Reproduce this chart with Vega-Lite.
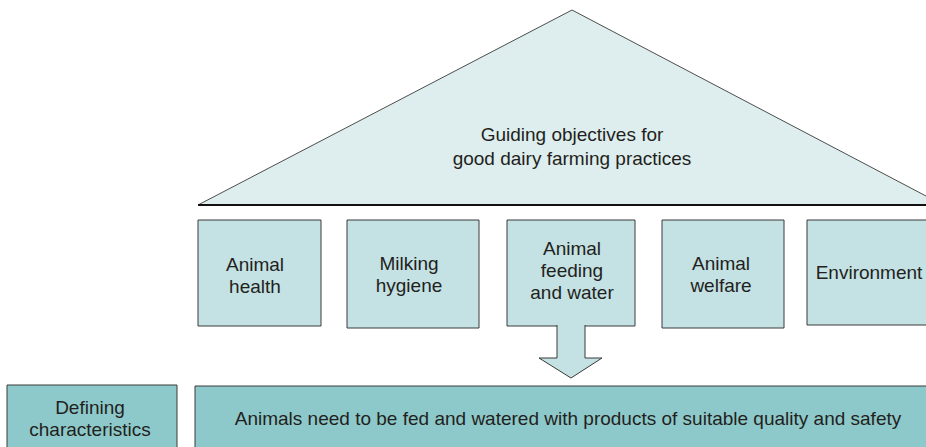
{
  "$schema": "https://vega.github.io/schema/vega-lite/v6.json",
  "width": 926,
  "height": 447,
  "autosize": {"type": "fit", "contains": "padding"},
  "padding": 0,
  "background": "white",
  "config": {"view": {"stroke": null}},
  "datasets": {
    "tri": [
      {"x": 198, "y": 205, "y2": 205},
      {"x": 572, "y": 10, "y2": 205},
      {"x": 926, "y": 196, "y2": 205}
    ],
    "boxes": [
      {"name": "Animal health", "x": 198, "x2": 321, "y": 220, "y2": 326, "kind": "pillar"},
      {"name": "Milking hygiene", "x": 347, "x2": 479, "y": 220, "y2": 328, "kind": "pillar"},
      {"name": "Animal feeding and water", "x": 507, "x2": 635, "y": 220, "y2": 326, "kind": "pillar"},
      {"name": "Animal welfare", "x": 662, "x2": 784, "y": 220, "y2": 328, "kind": "pillar"},
      {"name": "Environment", "x": 807, "x2": 935, "y": 220, "y2": 325, "kind": "pillar"},
      {"name": "Defining characteristics", "x": 7, "x2": 177, "y": 385, "y2": 455, "kind": "base"},
      {"name": "Statement", "x": 195, "x2": 935, "y": 386, "y2": 455, "kind": "base"}
    ],
    "arrow": [
      {"i": 0, "x": 557, "y": 325},
      {"i": 1, "x": 557, "y": 358},
      {"i": 2, "x": 539, "y": 358},
      {"i": 3, "x": 571, "y": 378},
      {"i": 4, "x": 602, "y": 358},
      {"i": 5, "x": 585, "y": 358},
      {"i": 6, "x": 585, "y": 325}
    ],
    "title": [
      {"t": "Guiding objectives for\ngood dairy farming practices", "x": 572, "y": 135}
    ],
    "labels": [
      {"t": "Animal\nhealth", "x": 255, "y": 265},
      {"t": "Milking\nhygiene", "x": 409, "y": 264},
      {"t": "Animal\nfeeding\nand water", "x": 572, "y": 249},
      {"t": "Animal\nwelfare", "x": 721, "y": 264},
      {"t": "Environment", "x": 869, "y": 273},
      {"t": "Defining\ncharacteristics", "x": 90, "y": 408},
      {"t": "Animals need to be fed and watered with products of suitable quality and safety", "x": 568, "y": 419}
    ]
  },
  "resolve": {"scale": {"x": "shared", "y": "shared"}},
  "layer": [
    {
      "data": {"name": "tri"},
      "mark": {"type": "area", "fill": "#deeeee", "clip": true},
      "encoding": {
        "x": {"field": "x", "type": "quantitative", "scale": {"domain": [0, 926], "nice": false, "zero": false}, "axis": null},
        "y": {"field": "y", "type": "quantitative", "scale": {"domain": [0, 447], "reverse": true, "nice": false, "zero": false}, "axis": null},
        "y2": {"field": "y2"}
      }
    },
    {
      "data": {"name": "tri"},
      "mark": {"type": "line", "stroke": "#3a3a3a", "strokeWidth": 0.9, "clip": true},
      "encoding": {
        "x": {"field": "x", "type": "quantitative", "scale": {"domain": [0, 926], "nice": false, "zero": false}, "axis": null},
        "y": {"field": "y", "type": "quantitative", "scale": {"domain": [0, 447], "reverse": true, "nice": false, "zero": false}, "axis": null}
      }
    },
    {
      "data": {"name": "tri"},
      "transform": [{"filter": "datum.x == 198"}],
      "mark": {"type": "rule", "stroke": "#111111", "strokeWidth": 2, "clip": true},
      "encoding": {
        "x": {"field": "x", "type": "quantitative", "scale": {"domain": [0, 926], "nice": false, "zero": false}, "axis": null},
        "x2": {"datum": 926},
        "y": {"field": "y2", "type": "quantitative", "scale": {"domain": [0, 447], "reverse": true, "nice": false, "zero": false}, "axis": null}
      }
    },
    {
      "data": {"name": "boxes"},
      "mark": {"type": "rect", "stroke": "#3a3a3a", "strokeWidth": 1, "clip": true},
      "encoding": {
        "x": {"field": "x", "type": "quantitative", "scale": {"domain": [0, 926], "nice": false, "zero": false}, "axis": null},
        "x2": {"field": "x2"},
        "y": {"field": "y", "type": "quantitative", "scale": {"domain": [0, 447], "reverse": true, "nice": false, "zero": false}, "axis": null},
        "y2": {"field": "y2"},
        "fill": {"field": "kind", "type": "nominal", "scale": {"domain": ["pillar", "base"], "range": ["#c4e1e3", "#8dc9ca"]}, "legend": null}
      }
    },
    {
      "data": {"name": "arrow"},
      "mark": {"type": "line", "fill": "#c4e1e3", "stroke": "#3a3a3a", "strokeWidth": 1},
      "encoding": {
        "x": {"field": "x", "type": "quantitative", "scale": {"domain": [0, 926], "nice": false, "zero": false}, "axis": null},
        "y": {"field": "y", "type": "quantitative", "scale": {"domain": [0, 447], "reverse": true, "nice": false, "zero": false}, "axis": null},
        "order": {"field": "i", "type": "quantitative"}
      }
    },
    {
      "data": {"name": "title"},
      "mark": {"type": "text", "font": "Liberation Sans", "fontSize": 19, "lineHeight": 24, "lineBreak": "\n", "color": "#231f20", "align": "center", "baseline": "middle"},
      "encoding": {
        "x": {"field": "x", "type": "quantitative", "scale": {"domain": [0, 926], "nice": false, "zero": false}, "axis": null},
        "y": {"field": "y", "type": "quantitative", "scale": {"domain": [0, 447], "reverse": true, "nice": false, "zero": false}, "axis": null},
        "text": {"field": "t"}
      }
    },
    {
      "data": {"name": "labels"},
      "mark": {"type": "text", "font": "Liberation Sans", "fontSize": 19, "lineHeight": 22, "lineBreak": "\n", "color": "#231f20", "align": "center", "baseline": "middle"},
      "encoding": {
        "x": {"field": "x", "type": "quantitative", "scale": {"domain": [0, 926], "nice": false, "zero": false}, "axis": null},
        "y": {"field": "y", "type": "quantitative", "scale": {"domain": [0, 447], "reverse": true, "nice": false, "zero": false}, "axis": null},
        "text": {"field": "t"}
      }
    }
  ]
}
